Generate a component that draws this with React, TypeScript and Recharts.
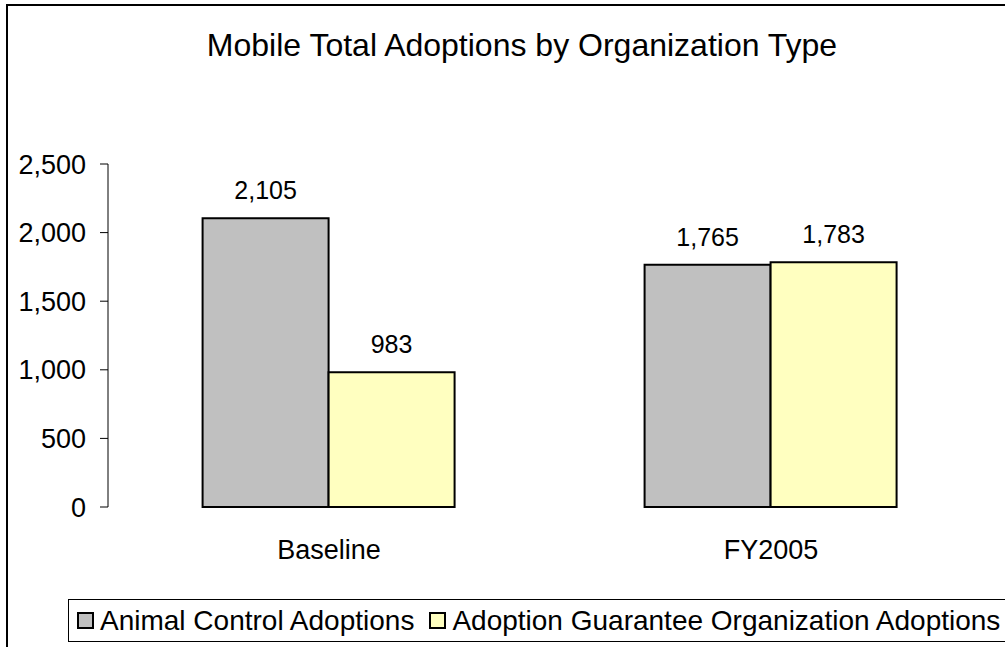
import React from 'react';
import { BarChart, Bar, XAxis, YAxis, Legend, LabelList } from 'recharts';

// values
const categories = ['Baseline', 'FY2005'];
const animalControl = [2105, 1765];
const guaranteeOrg = [983, 1783];
const yTicks = [0, 500, 1000, 1500, 2000, 2500];
const seriesNames = ['Animal Control Adoptions', 'Adoption Guarantee Organization Adoptions'];

const data = categories.map((category, i) => ({
  category,
  animal: animalControl[i],
  guarantee: guaranteeOrg[i],
}));

// category boundaries, where Excel puts its x tick marks
const edgeTicks = [...categories.map((_, i) => i), categories.length];

const font = '"Liberation Sans", Arial, sans-serif';
const fmt = (v: number) => v.toLocaleString('en-US');

const renderLegend = (props: any) => {
  // keep series order (recharts sorts the payload by name otherwise)
  const items = [...(props.payload || [])].sort(
    (a: any, b: any) => seriesNames.indexOf(a.value) - seriesNames.indexOf(b.value)
  );
  return (
    <div
      style={{
        display: 'flex',
        alignItems: 'center',
        height: 41,
        border: '1px solid #000',
        padding: '0 8px',
        background: '#fff',
        whiteSpace: 'nowrap',
        fontFamily: font,
        fontSize: 28,
        color: '#000',
      }}
    >
      {items.map((entry: any, i: number) => (
        <span key={entry.value} style={{ display: 'flex', alignItems: 'center', marginRight: i === 0 ? 15 : 0 }}>
          <span
            style={{
              display: 'inline-block',
              width: 13,
              height: 13,
              border: '2px solid #000',
              background: entry.color,
              marginRight: 6,
            }}
          />
          <span>{entry.value}</span>
        </span>
      ))}
    </div>
  );
};

export default function App() {
  return (
    <div
      style={{
        position: 'fixed',
        left: 0,
        top: 0,
        width: 1005,
        height: 647,
        overflow: 'hidden',
        background: '#fff',
        fontFamily: font,
      }}
    >
      <div
        style={{
          position: 'absolute',
          left: 6,
          top: 4,
          width: 1040,
          height: 700,
          border: '2px solid #000',
        }}
      />
      <div
        style={{
          position: 'absolute',
          left: 0,
          top: 29,
          width: 1044,
          textAlign: 'center',
          fontSize: 32,
          lineHeight: '32px',
          color: '#000',
        }}
      >
        Mobile Total Adoptions by Organization Type
      </div>
      <div style={{ position: 'absolute', left: 0, top: 0 }}>
        <BarChart
          width={1005}
          height={647}
          data={data}
          margin={{ top: 164, right: 13, bottom: 80, left: 8 }}
          barGap={0}
          barCategoryGap="21.4%"
        >
          <XAxis
            xAxisId="edge"
            type="number"
            domain={[0, categories.length]}
            ticks={edgeTicks}
            allowDataOverflow
            height={0}
            tick={false}
            tickSize={8}
            axisLine={{ stroke: '#808080' }}
            tickLine={{ stroke: '#808080' }}
          />
          <XAxis
            xAxisId="cat"
            dataKey="category"
            height={60}
            axisLine={false}
            tickLine={false}
            tickSize={0}
            tickMargin={33}
            tick={{ fill: '#000', fontSize: 27, fontFamily: font }}
          />
          <YAxis
            width={100}
            domain={[0, 2500]}
            ticks={yTicks}
            interval={0}
            tickFormatter={fmt}
            tickSize={8}
            tickMargin={14}
            axisLine={{ stroke: '#000' }}
            tickLine={{ stroke: '#000' }}
            tick={{ fill: '#000', fontSize: 27, fontFamily: font }}
          />
          <Legend
            layout="horizontal"
            verticalAlign="middle"
            align="center"
            content={renderLegend}
            wrapperStyle={{ left: 68, top: 599, width: 'max-content' }}
          />
          <Bar
            xAxisId="cat"
            dataKey="animal"
            name={seriesNames[0]}
            fill="#c0c0c0"
            stroke="#000"
            strokeWidth={2}
            isAnimationActive={false}
          >
            <LabelList dataKey="animal" position="top" offset={19} formatter={fmt} fill="#000" fontSize={25} fontFamily={font} />
          </Bar>
          <Bar
            xAxisId="cat"
            dataKey="guarantee"
            name={seriesNames[1]}
            fill="#ffffc0"
            stroke="#000"
            strokeWidth={2}
            isAnimationActive={false}
          >
            <LabelList dataKey="guarantee" position="top" offset={19} formatter={fmt} fill="#000" fontSize={25} fontFamily={font} />
          </Bar>
        </BarChart>
      </div>
    </div>
  );
}
